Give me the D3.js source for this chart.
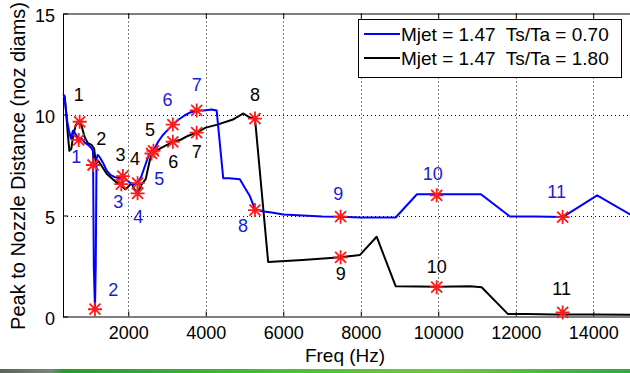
<!DOCTYPE html>
<html>
<head>
<meta charset="utf-8">
<script src="https://cdn.jsdelivr.net/npm/d3@7"></script>
<style>
html,body{margin:0;padding:0;background:#fff;}
svg{display:block;font-family:"Liberation Sans",Arial,sans-serif;}
text{white-space:pre;}
</style>
</head>
<body>
<svg id="chart" width="630" height="373"></svg>
<script>
// ---------- data ----------
const xTicks = [2000, 4000, 6000, 8000, 10000, 12000, 14000];
const yTicks = [0, 5, 10, 15];
const seriesNames = ["Mjet = 1.47  Ts/Ta = 0.70", "Mjet = 1.47  Ts/Ta = 1.80"];

const blueFreq = [330,370,420,470,520,570,620,680,720,800,880,960,1040,1090,1110,1140,1160,1180,1210,1260,1350,1450,1550,1650,1760,1860,1960,2060,2150,2240,2330,2430,2530,2650,2770,2900,3000,3150,3300,3450,3600,3765,3950,4150,4280,4450,4600,4880,5000,5140,5270,5500,5700,6000,6500,7000,7480,8000,8500,8900,9450,10000,11100,11850,12500,13210,14100,15000];
const blueVal  = [11.0,10.6,9.7,9.2,8.8,9.2,9.1,8.9,8.75,8.8,8.6,8.5,8.35,8.2,2.5,0.36,2.5,7.8,8.0,7.9,7.6,7.2,7.0,6.9,6.85,6.95,6.75,6.6,6.55,6.6,6.9,7.45,8.0,8.2,8.65,9.0,9.2,9.5,9.75,9.95,10.1,10.2,10.2,10.25,10.2,6.85,6.85,6.8,6.4,5.95,5.3,5.2,5.15,5.05,5.0,4.95,4.94,4.9,4.9,4.9,6.05,6.05,6.05,4.95,4.95,4.92,6.0,5.0];

const blackFreq = [330,360,400,440,480,530,580,650,745,800,870,950,1050,1120,1160,1230,1330,1450,1600,1720,1820,1920,1990,2080,2160,2240,2330,2450,2540,2600,2720,2850,3000,3150,3350,3550,3765,4000,4300,4700,4970,5140,5270,5610,6500,7480,7980,8410,8900,9500,10000,10820,11120,11800,12300,13000,14000,15000];
const blackVal  = [10.7,10.9,10.0,9.0,8.2,8.3,9.0,9.5,9.6,9.4,8.9,8.6,8.5,8.3,7.6,7.7,7.4,7.05,6.8,6.6,6.5,6.3,6.4,6.6,6.3,6.1,6.5,6.8,7.6,8.07,8.2,8.35,8.5,8.65,8.75,8.95,9.1,9.35,9.5,9.75,10.05,9.85,9.8,2.7,2.8,2.93,3.05,3.95,1.5,1.48,1.47,1.5,1.45,0.12,0.12,0.1,0.1,0.08];

const starLabels = ["1","2","3","4","5","6","7","8","9","10","11"];
const blueStarFreq  = [720,1140,1860,2240,2650,3150,3765,5270,7480,9960,13210];
const blueStarVal   = [8.74,0.36,6.95,6.6,8.2,9.5,10.2,5.27,4.94,6.0,4.92];
const blackStarFreq = [745,1090,1820,2240,2600,3150,3765,5270,7480,9960,13210];
const blackStarVal  = [9.64,7.5,6.55,6.1,8.07,8.65,9.1,9.8,2.93,1.45,0.2];

// label anchor points (data coordinates)
const blueLabelFreq  = [658,1613,1742,2258,2800,3012,3765,4960,7419,9855,13055];
const blueLabelVal   = [7.91,1.31,5.68,4.94,6.84,10.72,11.46,4.48,6.1,7.09,6.18];
const blackLabelFreq = [720,1303,1799,2173,2560,3161,3765,5270,7481,9959,13185];
const blackLabelVal  = [10.97,8.82,8.0,7.83,9.23,7.66,8.16,10.97,2.14,2.47,1.4];

// ---------- layout ----------
const svg = d3.select("#chart");
const L = 63, R = 632, T = 13.5, B = 316.5;
const x = d3.scaleLinear().domain([315, 15000]).range([L, R]);
const y = d3.scaleLinear().domain([0, 15]).range([B, T]);
const BLUE = "#0000ff", RED = "#ff1a1a";

// green strip at bottom (slide artifact)
const grad = svg.append("defs").append("linearGradient").attr("id","g1");
[[0,"#556655"],[0.08,"#778877"],[0.1,"#2a9a2a"],[0.4,"#44bb33"],[0.7,"#66cc44"],[1,"#33aa33"]].forEach(s=>{
  grad.append("stop").attr("offset",s[0]).attr("stop-color",s[1]);
});
svg.append("rect").attr("x",0).attr("y",369).attr("width",630).attr("height",4).attr("fill","url(#g1)");

// grid
const grid = svg.append("g").attr("stroke","#000").attr("stroke-width",1).attr("stroke-dasharray","1,3");
xTicks.forEach(t=>{
  grid.append("line").attr("x1",Math.round(x(t))+0.5).attr("x2",Math.round(x(t))+0.5).attr("y1",T).attr("y2",B);
});
yTicks.filter(t=>t>0 && t<15).forEach(t=>{
  grid.append("line").attr("x1",L).attr("x2",R).attr("y1",Math.round(y(t))+0.5).attr("y2",Math.round(y(t))+0.5);
});

// axes via d3
const xAxisB = d3.axisBottom(x).tickValues(xTicks).tickSize(-5).tickPadding(10).tickFormat(d3.format("d"));
const xAxisT = d3.axisTop(x).tickValues(xTicks).tickSize(-5).tickFormat("");
const yAxisL = d3.axisLeft(y).tickValues(yTicks).tickSize(-5).tickPadding(8).tickFormat(d3.format("d"));
const gx = svg.append("g").attr("transform",`translate(0,${B})`).call(xAxisB);
const gt = svg.append("g").attr("transform",`translate(0,${T})`).call(xAxisT);
const gy = svg.append("g").attr("transform",`translate(${L},0)`).call(yAxisL);
[gx,gt,gy].forEach(g=>{
  g.selectAll(".tick line").attr("stroke","#000");
  g.selectAll("text").attr("fill","#000").attr("font-size","18px").attr("font-family","Liberation Sans, Arial, sans-serif");
});
gx.select(".domain").remove();
gt.select(".domain").remove();
gy.select(".domain").remove();
gy.selectAll(".tick text").attr("dy","0.45em");
// box
svg.append("path").attr("d",`M${L+0.5},${B+0.5}V${T+0.5}H${R}`).attr("fill","none").attr("stroke","#000");
svg.append("line").attr("x1",L).attr("x2",R).attr("y1",B+0.5).attr("y2",B+0.5).attr("stroke","#000");

// lines
const line = d3.line().x(d=>x(d[0])).y(d=>y(d[1]));
const plot = svg.append("g");
plot.append("path").datum(d3.zip(blackFreq, blackVal)).attr("d",line)
  .attr("fill","none").attr("stroke","#000").attr("stroke-width",2).attr("stroke-linejoin","round");
plot.append("path").datum(d3.zip(blueFreq, blueVal)).attr("d",line)
  .attr("fill","none").attr("stroke",BLUE).attr("stroke-width",2).attr("stroke-linejoin","round");

// star markers
function star(g, cx, cy){
  const r = 7, r2 = 5.5;
  const p = `M${cx-r},${cy}H${cx+r}M${cx},${cy-r}V${cy+r}M${cx-r2},${cy-r2}L${cx+r2},${cy+r2}M${cx-r2},${cy+r2}L${cx+r2},${cy-r2}`;
  g.append("path").attr("d",p).attr("stroke",RED).attr("stroke-width",1.8).attr("fill","none");
}
const stars = svg.append("g");
d3.zip(blueStarFreq, blueStarVal).forEach(d=>star(stars, x(d[0]), y(d[1])));
d3.zip(blackStarFreq, blackStarVal).forEach(d=>star(stars, x(d[0]), y(d[1])));

// labels
const lab = svg.append("g").attr("font-size","18px").attr("text-anchor","middle");
starLabels.forEach((s,i)=>{
  lab.append("text").attr("x",x(blueLabelFreq[i])).attr("y",y(blueLabelVal[i])).attr("dy","0.35em").attr("fill","#1a1adc").text(s);
  lab.append("text").attr("x",x(blackLabelFreq[i])).attr("y",y(blackLabelVal[i])).attr("dy","0.35em").attr("fill","#000").text(s);
});

// axis titles
svg.append("text").attr("x",345).attr("y",362).attr("text-anchor","middle").attr("font-size","19px").text("Freq (Hz)");
svg.append("text").attr("transform","translate(25,166) rotate(-90)").attr("text-anchor","middle").attr("font-size","20px").text("Peak to Nozzle Distance (noz diams)");

// legend
const lg = svg.append("g");
lg.append("rect").attr("x",358.5).attr("y",19.5).attr("width",263).attr("height",58).attr("fill","#fff").attr("stroke","#000");
const colors = [BLUE, "#000"];
seriesNames.forEach((n,i)=>{
  const yy = 34 + i*24;
  lg.append("line").attr("x1",364).attr("x2",400).attr("y1",yy).attr("y2",yy).attr("stroke",colors[i]).attr("stroke-width",2);
  lg.append("text").attr("x",401).attr("y",yy+6.5).attr("font-size","19px").attr("fill","#000").attr("xml:space","preserve").text(n);
});
</script>
</body>
</html>
